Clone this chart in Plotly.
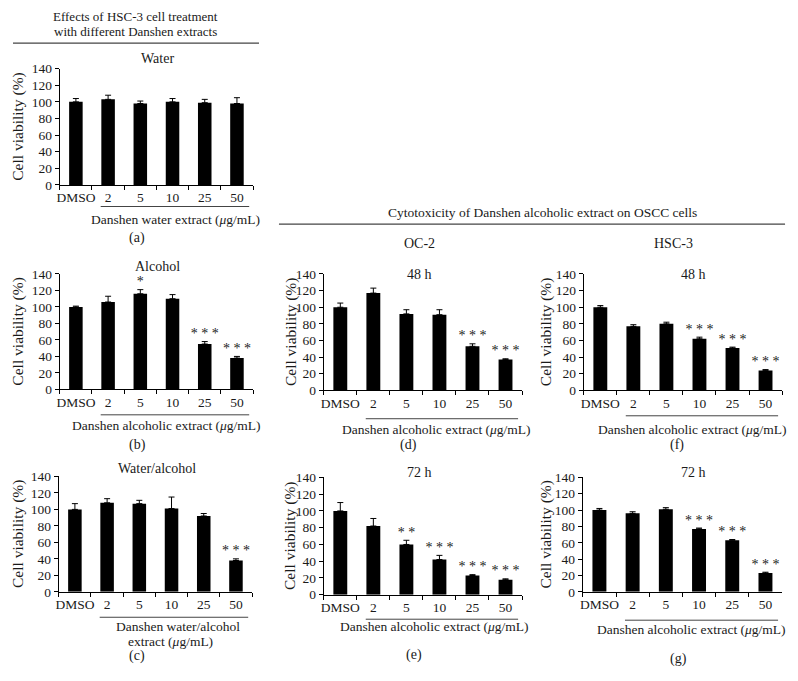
import plotly.graph_objects as go

# ---------------- data ----------------
categories = ["DMSO", "2", "5", "10", "25", "50"]

water_vals = [100, 103, 98, 100, 99, 98]
water_err = [4, 5, 3, 4, 4, 7]
water_sig = ["", "", "", "", "", ""]

alcohol_vals = [100, 106, 116, 110, 55, 38]
alcohol_err = [1, 7, 5, 5, 3, 2]
alcohol_sig = ["", "", "*", "", "* * *", "* * *"]

wa_vals = [100, 108, 107, 101, 92, 38]
wa_err = [7, 5, 4, 14, 3, 2]
wa_sig = ["", "", "", "", "", "* * *"]

oc2_48_vals = [100, 117, 92, 91, 53, 37]
oc2_48_err = [5, 6, 5, 6, 3, 1]
oc2_48_sig = ["", "", "", "", "* * *", "* * *"]

oc2_72_vals = [100, 82, 60, 42, 23, 18]
oc2_72_err = [10, 9, 5, 5, 1, 1]
oc2_72_sig = ["", "", "* *", "* * *", "* * *", "* * *"]

hsc3_48_vals = [100, 77, 80, 62, 51, 24]
hsc3_48_err = [2, 2, 2, 2, 1, 1]
hsc3_48_sig = ["", "", "", "* * *", "* * *", "* * *"]

hsc3_72_vals = [100, 96, 101, 77, 63, 23]
hsc3_72_err = [2, 2, 2, 1, 1, 1]
hsc3_72_sig = ["", "", "", "* * *", "* * *", "* * *"]

y_ticks = [0, 20, 40, 60, 80, 100, 120, 140]

# ---------------- layout helpers ----------------
W, H = 798, 681
FONT = "Liberation Serif, Times New Roman, DejaVu Serif, serif"
TXT = "#1a1a1a"


def px_x(p):
    return p / W


def px_y(p):
    return 1 - p / H


panels = [
    dict(vals=water_vals, err=water_err, sig=water_sig, box=(57, 63, 251, 182),
         title="Water", title_xy=(155, 53), ytitle_x=15,
         xtitle=[("Danshen water extract (<i>μ</i>g/mL)", 173, 217)],
         label="(a)", label_xy=(135, 236), uline=22),
    dict(vals=alcohol_vals, err=alcohol_err, sig=alcohol_sig, box=(57, 273, 251, 391),
         title="Alcohol", title_xy=(155, 265), ytitle_x=15,
         xtitle=[("Danshen alcoholic extract (<i>μ</i>g/mL)", 164, 428)],
         label="(b)", label_xy=(135, 448), uline=26),
    dict(vals=wa_vals, err=wa_err, sig=wa_sig, box=(56, 480, 250, 598),
         title="Water/alcohol", title_xy=(155, 472), ytitle_x=15,
         xtitle=[("Danshen water/alcohol", 176, 633), ("extract (<i>μ</i>g/mL)", 168, 649)],
         label="(c)", label_xy=(135, 664), uline=26),
    dict(vals=oc2_48_vals, err=oc2_48_err, sig=oc2_48_sig, box=(322, 273, 521, 392),
         title="48 h", title_xy=(418, 274), ytitle_x=289,
         xtitle=[("Danshen alcoholic extract (<i>μ</i>g/mL)", 435, 432)],
         label="(d)", label_xy=(407, 448), uline=29),
    dict(vals=oc2_72_vals, err=oc2_72_err, sig=oc2_72_sig, box=(322, 481, 521, 601),
         title="72 h", title_xy=(418, 476), ytitle_x=288,
         xtitle=[("Danshen alcoholic extract (<i>μ</i>g/mL)", 433, 633)],
         label="(e)", label_xy=(413, 663), uline=25),
    dict(vals=hsc3_48_vals, err=hsc3_48_err, sig=hsc3_48_sig, box=(583, 273, 782, 392),
         title="48 h", title_xy=(693, 274), ytitle_x=545,
         xtitle=[("Danshen alcoholic extract (<i>μ</i>g/mL)", 692, 432)],
         label="(f)", label_xy=(677, 448), uline=26),
    dict(vals=hsc3_72_vals, err=hsc3_72_err, sig=hsc3_72_sig, box=(582, 481, 782, 598),
         title="72 h", title_xy=(693, 476), ytitle_x=545,
         xtitle=[("Danshen alcoholic extract (<i>μ</i>g/mL)", 691, 637)],
         label="(g)", label_xy=(678, 667), uline=29),
]

fig = go.Figure()
annotations = []
shapes = []
layout = dict(
    width=W, height=H,
    margin=dict(l=0, r=0, t=0, b=0),
    paper_bgcolor="white", plot_bgcolor="white",
    showlegend=False,
    font=dict(family=FONT, color=TXT, size=13),
    bargap=0.58,
)


def text_at(txt, x, y, size=14, **kw):
    d = dict(text=txt, x=px_x(x), y=px_y(y), xref="paper", yref="paper",
             showarrow=False, xanchor="center", yanchor="middle", font=dict(size=size))
    d.update(kw)
    return d


for i, p in enumerate(panels):
    n = "" if i == 0 else str(i + 1)
    xa, ya = "x" + n, "y" + n
    x0, y0, x1, y1 = p["box"]
    fig.add_trace(go.Bar(
        x=categories, y=p["vals"], xaxis=xa, yaxis=ya,
        marker=dict(color="black", line=dict(width=0)),
        error_y=dict(type="data", array=p["err"], arrayminus=[0] * len(p["err"]),
                     color="black", thickness=1, width=3),
        hoverinfo="skip",
    ))
    tops = [v + e for v, e in zip(p["vals"], p["err"])]
    fig.add_trace(go.Scatter(
        x=categories, y=tops, xaxis=xa, yaxis=ya, mode="text",
        text=p["sig"], textposition="top center",
        textfont=dict(family=FONT, size=14, color="#222"),
        hoverinfo="skip",
    ))
    layout["xaxis" + n] = dict(
        domain=[px_x(x0), px_x(x1)], anchor=ya,
        type="category", range=[-0.5, 5.5],
        showline=True, linecolor="black", linewidth=1,
        ticks="outside", tickson="boundaries", ticklen=4, tickcolor="black",
        tickangle=0,
        tickfont=dict(family=FONT, size=13.5, color=TXT),
        showgrid=False, zeroline=False, fixedrange=True,
    )
    layout["yaxis" + n] = dict(
        domain=[px_y(y1), px_y(y0)], anchor=xa,
        range=[0, 140], tickvals=y_ticks,
        showline=True, linecolor="black", linewidth=1,
        ticks="outside", ticklen=4, tickcolor="black",
        tickfont=dict(family=FONT, size=13.5, color=TXT),
        showgrid=False, zeroline=False, fixedrange=True,
    )
    # underline below the concentration labels
    hpx = y1 - y0
    shapes.append(dict(type="line", xref=xa, yref=ya + " domain",
                       x0=0.77, x1=5.38, y0=-p["uline"] / hpx, y1=-p["uline"] / hpx,
                       line=dict(color="#444", width=1)))
    annotations.append(text_at("Cell viability (%)", p["ytitle_x"], (y0 + y1) / 2,
                               size=15.5, textangle=-90))
    annotations.append(text_at(p["title"], *p["title_xy"], size=14))
    for t, tx, ty in p["xtitle"]:
        annotations.append(text_at(t, tx, ty, size=13.5))
    annotations.append(text_at(p["label"], *p["label_xy"], size=14))

# headers
annotations.append(text_at("Effects of HSC-3 cell treatment", 133, 10, size=13))
annotations.append(text_at("with different Danshen extracts", 133, 25, size=13))
shapes.append(dict(type="line", xref="paper", yref="paper",
                   x0=px_x(10), x1=px_x(257), y0=px_y(37), y1=px_y(37),
                   line=dict(color="#444", width=1.2)))
annotations.append(text_at("Cytotoxicity of Danshen alcoholic extract on OSCC cells", 542, 210, size=13.5))
shapes.append(dict(type="line", xref="paper", yref="paper",
                   x0=px_x(277), x1=px_x(785), y0=px_y(222), y1=px_y(222),
                   line=dict(color="#444", width=1.2)))
annotations.append(text_at("OC-2", 418, 242, size=14))
annotations.append(text_at("HSC-3", 673, 242, size=14))

layout["annotations"] = annotations
layout["shapes"] = shapes
fig.update_layout(**layout)
fig.write_html("out.html",
               config={"displayModeBar": False},
               post_script="document.body.style.margin='0';document.body.style.padding='0';")
